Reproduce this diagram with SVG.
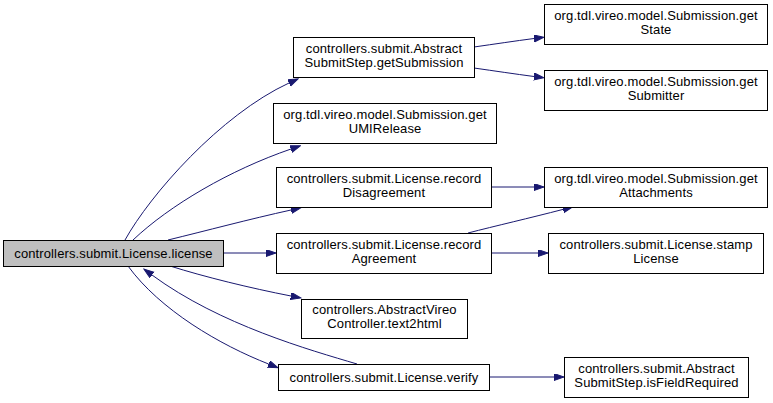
<svg xmlns="http://www.w3.org/2000/svg" width="773" height="403" viewBox="0 0 773 403">
<style>
.node rect{fill:#ffffff;stroke:#000000;stroke-width:1}
.node.main rect{fill:#bfbfbf}
.node text{font-family:"Liberation Sans",Arial,sans-serif;font-size:13px;letter-spacing:0.12px;fill:#000000;text-anchor:middle}
.edges path{fill:none;stroke:#191970;stroke-width:1}
</style>
<defs>
<marker id="arr" markerUnits="userSpaceOnUse" markerWidth="11" markerHeight="8" refX="0" refY="3.5" orient="auto" viewBox="0 0 11 8">
<path d="M0,0 L10,3.5 L0,7 z" fill="#191970" stroke="#191970"/>
</marker>
</defs>
<rect width="773" height="403" fill="#ffffff"/>
<g class="edges">
<path d="M125,240 C150,195 220,115 289,83" marker-end="url(#arr)"/>
<path d="M133,240 C170,205 230,170 291,149" marker-end="url(#arr)"/>
<path d="M168,240 C205,231 250,219 291,210" marker-end="url(#arr)"/>
<path d="M223,253 L266,253" marker-end="url(#arr)"/>
<path d="M170,266 C205,277 250,288 291,296" marker-end="url(#arr)"/>
<path d="M128,266 C160,310 220,345 268.6,364" marker-end="url(#arr)"/>
<path d="M357,364 C310,350 220,325 152,275" marker-end="url(#arr)"/>
<path d="M474,47 C495,44 515,41 534,38.5" marker-end="url(#arr)"/>
<path d="M474,68 C495,71 515,74 534,76.5" marker-end="url(#arr)"/>
<path d="M491,187 L534,187" marker-end="url(#arr)"/>
<path d="M468,233 C495,226 530,218 563,209.4" marker-end="url(#arr)"/>
<path d="M491,253 L538,253" marker-end="url(#arr)"/>
<path d="M489,377 L554,377" marker-end="url(#arr)"/>
</g>
<g id="node-license" class="node main"><rect x="3.5" y="240.5" width="220" height="26"/><text x="113.5" y="257.5">controllers.submit.License.license</text></g>
<g id="node-getSubmission" class="node"><rect x="293.5" y="37.5" width="181" height="40"/><text x="384" y="52.5">controllers.submit.Abstract</text><text x="384" y="66.5">SubmitStep.getSubmission</text></g>
<g id="node-getUMIRelease" class="node"><rect x="273.5" y="103.5" width="223" height="40"/><text x="385" y="118.5">org.tdl.vireo.model.Submission.get</text><text x="385" y="132.5">UMIRelease</text></g>
<g id="node-recordDisagreement" class="node"><rect x="276.5" y="167.5" width="215" height="40"/><text x="384" y="182.5">controllers.submit.License.record</text><text x="384" y="196.5">Disagreement</text></g>
<g id="node-recordAgreement" class="node"><rect x="276.5" y="233.5" width="215" height="40"/><text x="384" y="248.5">controllers.submit.License.record</text><text x="384" y="262.5">Agreement</text></g>
<g id="node-text2html" class="node"><rect x="301.5" y="299.5" width="166" height="39"/><text x="384.5" y="314">controllers.AbstractVireo</text><text x="384.5" y="328">Controller.text2html</text></g>
<g id="node-verify" class="node"><rect x="278.5" y="364.5" width="211" height="26"/><text x="384" y="381.5">controllers.submit.License.verify</text></g>
<g id="node-getState" class="node"><rect x="544.5" y="4.5" width="223" height="40"/><text x="656" y="19.5">org.tdl.vireo.model.Submission.get</text><text x="656" y="33.5">State</text></g>
<g id="node-getSubmitter" class="node"><rect x="544.5" y="70.5" width="223" height="40"/><text x="656" y="85.5">org.tdl.vireo.model.Submission.get</text><text x="656" y="99.5">Submitter</text></g>
<g id="node-getAttachments" class="node"><rect x="544.5" y="167.5" width="223" height="40"/><text x="656" y="182.5">org.tdl.vireo.model.Submission.get</text><text x="656" y="196.5">Attachments</text></g>
<g id="node-stampLicense" class="node"><rect x="548.5" y="233.5" width="215" height="40"/><text x="656" y="248.5">controllers.submit.License.stamp</text><text x="656" y="262.5">License</text></g>
<g id="node-isFieldRequired" class="node"><rect x="564.5" y="357.5" width="184" height="40"/><text x="656.5" y="372.5">controllers.submit.Abstract</text><text x="656.5" y="386.5">SubmitStep.isFieldRequired</text></g>
</svg>
